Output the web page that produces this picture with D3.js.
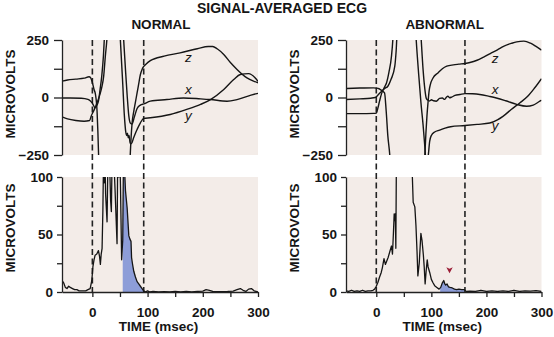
<!DOCTYPE html>
<html>
<head>
<meta charset="utf-8">
<script src="https://cdn.jsdelivr.net/npm/d3@7"></script>
<style>
  body { margin: 0; background: #fff; }
  svg text { font-family: "Liberation Sans", Arial, Helvetica, sans-serif; }
</style>
</head>
<body>
<svg id="chart" width="554" height="337"></svg>
<script>
// tick values
var timeTicks = [0, 50, 100, 150, 200, 250, 300];
var timeLabels = [0, 100, 200, 300];
var leadTicks = [-250, -125, 0, 125, 250];
var leadLabels = [-250, 0, 250];
var vectorTicks = [0, 25, 50, 75, 100];
var vectorLabels = [0, 50, 100];

// X, Y, Z leads [msec, microvolts] - normal
var normalZ = [[-55,71],[-45,76],[-30,80],[-15,84],[-6,90],[-3,85],[0,65],[3,35],[5.5,15],[8.5,-60],[10,-150],[11.5,-270],[13,-400],
  [65,-420],[68,-280],[70,-180],[72,-110],[75,-60],[78,-20],[81,20],[84,60],[87,100],[90,122],[93,135],[97,145],[105,160],[130,180],[159,194],
  [190,212],[210,222],[218,222],[226,212],[238,187],[250,152],[262,122],[280,85],[292,71],[300,64]];
var normalX = [[-55,-2],[-40,-2],[-20,-3],[-8,-8],[-4,-14],[0,-25],[5,-45],[8,-35],[11,-16],[14,35],[17,93],[20,180],[22,270],[24,380],
  [52,400],[56.7,250],[60,120],[63,10],[66,-80],[69,-112],[72,-115],[76,-85],[81,-48],[87,-33],[93,-28],[105,-16],[135,-9],[165,-2],
  [196,-6],[214,-9],[244,-16],[262,-9],[286,9],[298,17],[300,18]];
var normalY = [[-55,-84],[-45,-93],[-30,-100],[-15,-103],[-5,-100],[-2,-80],[3,-55],[8.5,-23],[14.5,20],[17.5,49],[20.5,93],[23.5,180],[26.5,260],[29,380],
  [46,420],[50.7,250],[55,60],[58,-80],[60.5,-150],[62,-165],[63.5,-155],[65,-175],[66.5,-165],[68.5,-200],[71,-200],[74,-180],[78,-155],
  [81,-139],[87,-110],[93,-91],[105,-88],[141,-74],[171,-52],[196,-30],[214,-9],[238,35],[256,78],[268,100],[283,104],[295,85],[300,70]];

// X, Y, Z leads - abnormal
var abnormalZ = [[-55,39],[-30,41],[-5,42],[0,41],[5,38],[10,30],[15,20],[18,-60],[21,-168],[24.5,-250],[27,-350],
  [85,-400],[88,-260],[90,-160],[92,-80],[94,-20],[96,30],[98,55],[103,85],[112,107],[120,125],[128,136],[140,142],[150,145],[161,148],
  [170,152],[183,162],[195,176],[207,191],[220,207],[231,222],[245,235],[255,242],[268,245],[280,236],[290,222],[300,206]];
var abnormalX = [[-55,-9],[-30,-6],[-10,-3],[-2,0],[2,8],[6,18],[11,30],[16,40],[21,49],[27,80],[33.6,136],[36,200],[38,280],
  [78,400],[81.6,250],[85,120],[88,40],[91,-5],[94,-12],[97,-15],[100,-10],[104,-14],[109,-16],[115,-4],[120,-2],[124,-8],[127,0],
  [130,6],[133,-1],[137,2],[143,9],[152,13],[161,17],[175,16],[188,13],[205,5],[218,-2],[235,-14],[255,-30],[273,-38],[285,-33],[297,-16],[300,-12]];
var abnormalY = [[-55,-70],[-30,-70],[-5,-69],[0,-68],[3,-45],[6,-15],[10,20],[15,45],[18.5,63],[23,110],[27.6,180],[30,250],[32,350],
  [69,400],[72.5,250],[77,100],[81,-20],[85,-120],[88,-210],[90,-270],[92,-285],[94,-260],[97,-190],[100,-165],[106,-150],[115,-142],
  [125,-133],[135,-127],[161,-122],[183,-117],[206,-111],[220,-97],[230,-82],[245,-52],[261,-23],[274,3],[287,40],[300,82]];

// filtered vector magnitude [msec, microvolts]
var normalVector = [[-55,10],[-52,8],[-49,4],[-46,3],[-43,5],[-40,4],[-36,3],[-32,2],[-28,2],[-24,1],[-18,1],[-12,1],[-8,2],[-4,3],[-1,10],
  [1,22],[3,28],[5,32],[8,33],[11,36],[13,31],[14.5,24],[16,33],[17.6,38],[19,70],[20.5,125],[21.5,95],[22.5,125],[24,85],[26.6,61],
  [28.5,125],[30.5,125],[33,80],[34.4,70],[36,125],[38,125],[41,90],[44.7,42],[46,125],[48,100],[49.5,125],[51,90],[53,28],[55,45],
  [56.5,125],[58,110],[60,88],[63,73],[66,49],[68,46],[70,44],[71,30],[72.5,25],[75,18],[78,13],[81,9],[84,7],[87,5],[90,3],[93,1],
  [96,0],[100,1],[104,0],[110,0.5],[120,0],[130,0.3],[140,0],[150,0.5],[160,0],[170,0.5],[180,0],[190,0.5],[200,0.8],[206,2],[212,1.5],
  [218,0.5],[230,0.3],[245,0.5],[255,0.8],[262,2],[268,3],[273,1.5],[278,0.5],[283,2.5],[288,3],[293,1],[300,0]];
var abnormalVector = [[-55,1],[-50,0.5],[-45,1.5],[-40,0.5],[-35,1],[-30,0.5],[-25,1.5],[-20,0.5],[-15,1],[-10,1],[-6,1.5],[-3,2.5],
  [0,5],[3,8.5],[6,13],[9,17],[11,21],[14,29],[16.5,24],[19,27],[21.5,30],[24.5,35],[27.6,40],[29.4,33],[31,50],[32.5,68],[33.6,62],
  [34.5,68],[35.5,38],[36.7,130],[37.5,150],[60,150],[64,115],[65.5,100],[67,78],[70,74],[72,58],[74,35],[75.5,14],[78,25],[81,51],
  [83,45],[85.5,32],[87,22],[88.7,7],[90.5,18],[92.5,28],[94,22],[97,17],[100,11],[103,8],[106,5.5],[110,4],[114,2.5],[117,4],[120,8],
  [122.5,10],[124.5,7],[126,6],[128.5,7],[131,4.5],[134,4],[138,3.5],[142,2.5],[146,2],[150,2.5],[155,2],[160,2],[163,0.5],[170,0.8],
  [180,0.5],[190,1.5],[200,0.5],[210,1],[220,0.5],[230,1],[240,0.5],[250,1.5],[260,0.5],[270,1],[280,0.8],[290,1.2],[300,0.5]];

// QRS onset / offset and late potential windows (msec)
var normalQrs = [0, 93], abnormalQrs = [0, 161];
var normalLas = [55, 93], abnormalLas = [116, 161];
var abnormalArrow = [[133, 19]];

var leadNames = ["z", "x", "y"];
var normalNamePos = [[174, 153], [174, 14], [174, -99]];
var abnormalNamePos = [[216, 149], [216, 17], [216, -142]];

var panels = [
  { title: "NORMAL", x0: 62, x1: 258, leads: [normalZ, normalX, normalY], names: normalNamePos,
    vector: normalVector, qrs: normalQrs, las: normalLas, arrow: [] },
  { title: "ABNORMAL", x0: 346, x1: 541.5, leads: [abnormalZ, abnormalX, abnormalY], names: abnormalNamePos,
    vector: abnormalVector, qrs: abnormalQrs, las: abnormalLas, arrow: abnormalArrow }
];

var bg = "#f3ece8", ink = "#151515", blue = "#8d9dd8";

var svg = d3.select("#chart");
var defs = svg.append("defs");
var yTop = d3.scaleLinear().domain([-250, 250]).range([155, 40]);
var yBot = d3.scaleLinear().domain([0, 100]).range([292, 177]);

svg.append("text")
  .attr("x", 282).attr("y", 13)
  .attr("text-anchor", "middle")
  .attr("font-size", 14).attr("font-weight", "bold")
  .attr("fill", ink)
  .text("SIGNAL-AVERAGED ECG");

function styleAxis(g) {
  g.attr("font-size", 13.5).attr("font-weight", "bold")
   .attr("font-family", null);
  g.selectAll("path, line").attr("stroke", "#222").attr("stroke-width", 1.3);
  g.selectAll("text").attr("fill", ink);
}

panels.forEach(function(p, i) {
  var x = d3.scaleLinear().domain([-55, 300]).range([p.x0, p.x1]);
  var w = p.x1 - p.x0;
  var g = svg.append("g");

  // plot backgrounds
  g.append("rect").attr("x", p.x0).attr("y", yTop(250))
    .attr("width", w).attr("height", yTop(-250) - yTop(250)).attr("fill", bg);
  g.append("rect").attr("x", p.x0).attr("y", yBot(100))
    .attr("width", w).attr("height", yBot(0) - yBot(100)).attr("fill", bg);

  defs.append("clipPath").attr("id", "top" + i).append("rect")
    .attr("x", p.x0).attr("y", yTop(250)).attr("width", w).attr("height", yTop(-250) - yTop(250));
  defs.append("clipPath").attr("id", "bot" + i).append("rect")
    .attr("x", p.x0).attr("y", yBot(100)).attr("width", w).attr("height", yBot(0) - yBot(100));
  defs.append("clipPath").attr("id", "las" + i).append("rect")
    .attr("x", x(p.las[0])).attr("y", yBot(100))
    .attr("width", x(p.las[1]) - x(p.las[0])).attr("height", yBot(0) - yBot(100));

  // panel title
  g.append("text")
    .attr("x", (p.x0 + p.x1) / 2 + 1).attr("y", 29)
    .attr("text-anchor", "middle")
    .attr("font-size", 13.5).attr("font-weight", "bold").attr("fill", ink)
    .text(p.title);

  // shaded late potential
  var area = d3.area()
    .x(function(d) { return x(d[0]); })
    .y0(yBot(0))
    .y1(function(d) { return yBot(d[1]); });
  g.append("path").datum(p.vector)
    .attr("clip-path", "url(#las" + i + ")")
    .attr("d", area)
    .attr("fill", blue);

  // QRS onset/offset markers
  g.selectAll(".qrs").data(p.qrs).enter().append("line")
    .attr("class", "qrs")
    .attr("x1", function(d) { return x(d); })
    .attr("x2", function(d) { return x(d); })
    .attr("y1", yTop(250)).attr("y2", yBot(0))
    .attr("stroke", "#222").attr("stroke-width", 1.6)
    .attr("stroke-dasharray", "6,3.5");

  // X, Y, Z leads
  var line = d3.line()
    .x(function(d) { return x(d[0]); })
    .y(function(d) { return yTop(d[1]); })
    .curve(d3.curveMonotoneX);
  g.append("g").attr("clip-path", "url(#top" + i + ")")
    .selectAll("path").data(p.leads).enter().append("path")
    .attr("d", line)
    .attr("fill", "none").attr("stroke", ink).attr("stroke-width", 1.4);

  g.selectAll(".lead").data(p.names).enter().append("text")
    .attr("class", "lead")
    .attr("x", function(d) { return x(d[0]); })
    .attr("y", function(d) { return yTop(d[1]); })
    .attr("text-anchor", "middle")
    .attr("font-size", 13.5).attr("font-style", "italic").attr("fill", ink)
    .text(function(d, j) { return leadNames[j]; });

  // filtered QRS vector
  var vline = d3.line()
    .x(function(d) { return x(d[0]); })
    .y(function(d) { return yBot(d[1]); });
  g.append("path").datum(p.vector)
    .attr("clip-path", "url(#bot" + i + ")")
    .attr("d", vline)
    .attr("fill", "none").attr("stroke", ink).attr("stroke-width", 1.3)
    .attr("stroke-linejoin", "round");

  // arrowhead
  g.selectAll(".arrow").data(p.arrow).enter().append("path")
    .attr("class", "arrow")
    .attr("transform", function(d) { return "translate(" + x(d[0]) + "," + yBot(d[1]) + ")"; })
    .attr("d", "M-3.2,-3 L0,-1.3 L3.2,-3 L0,3 Z")
    .attr("fill", "#9b1d36");

  // axes
  g.append("g").attr("transform", "translate(" + p.x0 + ",0)")
    .call(d3.axisLeft(yTop).tickValues(leadTicks)
      .tickFormat(function(d) { return leadLabels.indexOf(d) >= 0 ? d3.format("d")(d) : ""; })
      .tickSize(8).tickSizeOuter(0).tickPadding(5))
    .call(styleAxis);

  g.append("g").attr("transform", "translate(" + p.x0 + ",0)")
    .call(d3.axisLeft(yBot).tickValues(vectorTicks)
      .tickFormat(function(d) { return vectorLabels.indexOf(d) >= 0 ? d : ""; })
      .tickSize(5).tickSizeOuter(0).tickPadding(4))
    .call(styleAxis);

  g.append("g").attr("transform", "translate(0," + yBot(0) + ")")
    .call(d3.axisBottom(x).tickValues(timeTicks)
      .tickFormat(function(d) { return timeLabels.indexOf(d) >= 0 ? d : ""; })
      .tickSize(5).tickSizeOuter(0).tickPadding(10))
    .call(styleAxis);

  // axis titles
  var lx = p.x0 - 47;
  [94, 228].forEach(function(cy) {
    g.append("text")
      .attr("transform", "translate(" + lx + "," + cy + ") rotate(-90)")
      .attr("text-anchor", "middle")
      .attr("font-size", 13.5).attr("font-weight", "bold").attr("fill", ink)
      .text("MICROVOLTS");
  });

  g.append("text")
    .attr("x", x(120)).attr("y", 331)
    .attr("text-anchor", "middle")
    .attr("font-size", 13.5).attr("font-weight", "bold").attr("fill", ink)
    .text("TIME (msec)");
});
</script>
</body>
</html>
